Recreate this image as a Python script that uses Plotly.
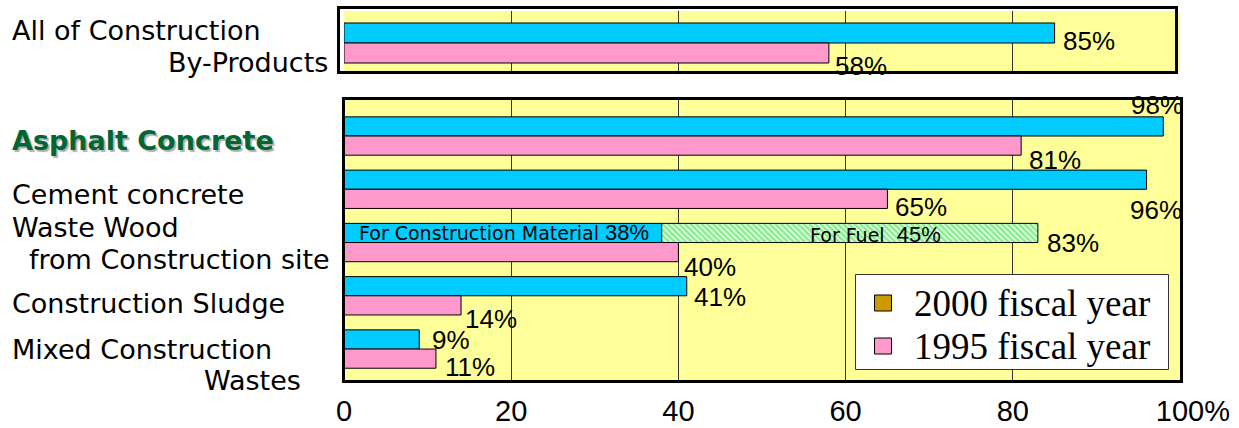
import plotly.graph_objects as go

# ---- data -------------------------------------------------------------
categories = ["Asphalt Concrete", "Cement concrete", "Waste Wood", "Construction Sludge", "Mixed Construction Wastes"]
fy2000 = [98, 96, 38, 41, 9]          # 2000 fiscal year (waste wood: construction material share)
fy1995 = [81, 65, 40, 14, 11]         # 1995 fiscal year
wood_fuel_2000 = 45                   # waste wood reused for fuel, stacked after construction material
all_2000 = [85]                       # all construction by-products
all_1995 = [58]
x_ticks = [0, 20, 40, 60, 80, 100]
legend_names = ["2000 fiscal year", "1995 fiscal year"]

# ---- styling ----------------------------------------------------------
W, H = 1239, 428
PLOT_L, PLOT_R = 344, 1180
CYAN, PINK, YELLOW, GOLD = "#00CCFF", "#FF99CC", "#FFFF99", "#CC9900"
GREEN = "#11DD22"
BAR_W = 0.36
LABEL_FONT = dict(family="DejaVu Sans", size=27, color="black")
VALUE_FONT = dict(family="Liberation Sans", size=26, color="black")


def fx(px):
    return (px - PLOT_L) / (PLOT_R - PLOT_L)


def fy(py):
    return (H - py) / H


fig = go.Figure()
outline = dict(color="black", width=1)
idx = list(range(len(categories)))

# bottom panel: by-product breakdown
fig.add_trace(go.Bar(x=fy2000, y=idx, orientation="h", width=BAR_W, offset=-BAR_W,
                     marker=dict(color=CYAN, line=outline), showlegend=False,
                     xaxis="x", yaxis="y"))
fig.add_trace(go.Bar(x=[wood_fuel_2000], y=[2], base=[fy2000[2]], orientation="h",
                     width=BAR_W, offset=-BAR_W,
                     marker=dict(color=GREEN, line=outline,
                                 pattern=dict(shape="\\", fgcolor=GREEN, bgcolor="white",
                                              size=4, solidity=0.7)),
                     showlegend=False, xaxis="x", yaxis="y"))
fig.add_trace(go.Bar(x=fy1995, y=idx, orientation="h", width=BAR_W, offset=0,
                     marker=dict(color=PINK, line=outline), showlegend=False,
                     xaxis="x", yaxis="y"))

# top panel: all construction by-products
fig.add_trace(go.Bar(x=all_2000, y=[0], orientation="h", width=BAR_W, offset=-BAR_W,
                     marker=dict(color=CYAN, line=outline), showlegend=False,
                     xaxis="x2", yaxis="y2"))
fig.add_trace(go.Bar(x=all_1995, y=[0], orientation="h", width=BAR_W, offset=0,
                     marker=dict(color=PINK, line=outline), showlegend=False,
                     xaxis="x2", yaxis="y2"))

annotations = []

# category labels on the left
left_labels = [
    ("All of Construction", 10, 31, "left", LABEL_FONT),
    ("By-Products", 330, 63, "right", LABEL_FONT),
    ("Asphalt Concrete", 10, 141, "left",
     dict(family="DejaVu Sans", size=27, color="#006633", weight="bold",
          shadow="2px 2px 1px #b0b0b0")),
    ("Cement concrete", 10, 194, "left", LABEL_FONT),
    ("Waste Wood", 10, 227, "left", LABEL_FONT),
    ("from Construction site", 332, 259, "right", LABEL_FONT),
    ("Construction Sludge", 10, 303, "left", LABEL_FONT),
    ("Mixed Construction", 10, 349, "left", LABEL_FONT),
    ("Wastes", 303, 380, "right", LABEL_FONT),
]
for text, px, py, anchor, font in left_labels:
    annotations.append(dict(text=text, x=fx(px), y=fy(py), xref="paper", yref="paper",
                            xanchor=anchor, yanchor="middle", showarrow=False, font=font))

# value labels, offset in px from each bar's end and centre
offsets_2000 = [(-34, -21), (-19, 30), None, (5, 11), (11, 1)]
offsets_1995 = [(6, 14), (6, 8), (4, 15), (2, 14), (7, 8)]

for i, v in enumerate(fy2000):
    if offsets_2000[i] is None:
        continue
    dx, dy = offsets_2000[i]
    annotations.append(dict(text=f"{v}%", x=v, y=i - BAR_W / 2, xref="x", yref="y",
                            xanchor="left", yanchor="middle", xshift=dx, yshift=-dy,
                            showarrow=False, font=VALUE_FONT))
for i, v in enumerate(fy1995):
    dx, dy = offsets_1995[i]
    annotations.append(dict(text=f"{v}%", x=v, y=i + BAR_W / 2, xref="x", yref="y",
                            xanchor="left", yanchor="middle", xshift=dx, yshift=-dy,
                            showarrow=False, font=VALUE_FONT))

# waste wood total (material + fuel)
wood_total = fy2000[2] + wood_fuel_2000
annotations.append(dict(text=f"{wood_total}%", x=wood_total, y=2 - BAR_W / 2, xref="x", yref="y",
                        xanchor="left", yanchor="middle", xshift=7, yshift=-10,
                        showarrow=False, font=VALUE_FONT))

# split labels inside the waste wood bar
inner = "font-family:'Liberation Sans';font-size:22px"
annotations.append(dict(text=f"For Construction Material <span style=\"{inner}\">{fy2000[2]}%</span>",
                        x=0, y=2 - BAR_W / 2, xref="x", yref="y", xanchor="left", yanchor="middle",
                        xshift=13, yshift=0, showarrow=False,
                        font=dict(family="DejaVu Sans", size=19, color="black")))
annotations.append(dict(text=f"For Fuel  <span style=\"{inner}\">{wood_fuel_2000}%</span>",
                        x=fy2000[2], y=2 - BAR_W / 2, xref="x", yref="y", xanchor="left",
                        yanchor="middle", xshift=146, yshift=-2, showarrow=False,
                        font=dict(family="DejaVu Sans", size=19, color="black")))

# top panel labels
annotations.append(dict(text=f"{all_2000[0]}%", x=all_2000[0], y=-BAR_W / 2, xref="x2", yref="y2",
                        xanchor="left", yanchor="middle", xshift=6, yshift=-8,
                        showarrow=False, font=VALUE_FONT))
annotations.append(dict(text=f"{all_1995[0]}%", x=all_1995[0], y=BAR_W / 2, xref="x2", yref="y2",
                        xanchor="left", yanchor="middle", xshift=4, yshift=-13,
                        showarrow=False, font=VALUE_FONT))

# panel frames
shapes = [
    dict(type="rect", xref="paper", yref="paper", x0=fx(338.5), x1=fx(1176.5),
         y0=fy(72.5), y1=fy(7.5), line=dict(color="black", width=3), layer="above"),
    dict(type="rect", xref="paper", yref="paper", x0=fx(343.5), x1=fx(1181.5),
         y0=fy(381.5), y1=fy(98.5), line=dict(color="black", width=3), layer="above"),
]

# legend box
legend_font = dict(family="Liberation Serif", size=37, color="black")
shapes.append(dict(type="rect", xref="paper", yref="paper", x0=fx(855.5), x1=fx(1168.5),
                   y0=fy(369.5), y1=fy(274.5), fillcolor="white",
                   line=dict(color="#333333", width=1), layer="above"))
for name, col, cy in zip(legend_names, [GOLD, PINK], [303, 346]):
    shapes.append(dict(type="rect", xref="paper", yref="paper", x0=fx(874.5), x1=fx(891.5),
                       y0=fy(cy + 8), y1=fy(cy - 8), fillcolor=col,
                       line=dict(color="black", width=1), layer="above"))
    annotations.append(dict(text=name, x=fx(912), y=fy(cy), xref="paper", yref="paper",
                            xanchor="left", yanchor="middle", showarrow=False, font=legend_font))

tick_text = [str(t) for t in x_ticks[:-1]] + [
    f"<span style='color:rgba(0,0,0,0)'>%</span>{x_ticks[-1]}%"]

axis_common = dict(range=[0, 100], showgrid=True, gridcolor="#333333", gridwidth=1,
                   zeroline=False, showline=False, tickvals=x_ticks, fixedrange=True)

fig.update_layout(
    width=W, height=H,
    margin=dict(l=PLOT_L, r=W - PLOT_R, t=0, b=0, autoexpand=False),
    paper_bgcolor="white", plot_bgcolor=YELLOW,
    barmode="overlay", showlegend=False,
    xaxis=dict(**axis_common, domain=[0, 1], anchor="y", ticktext=tick_text,
               ticks="", ticklabelstandoff=10,
               tickfont=dict(family="Liberation Sans", size=29, color="black")),
    xaxis2=dict(**axis_common, domain=[0, 1], anchor="y2", showticklabels=False),
    yaxis=dict(domain=[fy(381), fy(98)], range=[4.60, -0.714], showgrid=False,
               zeroline=False, showticklabels=False),
    yaxis2=dict(domain=[fy(71), fy(11)], range=[0.504, -0.576], showgrid=False,
                zeroline=False, showticklabels=False),
    annotations=annotations,
    shapes=shapes,
)

fig.write_html("out.html")
